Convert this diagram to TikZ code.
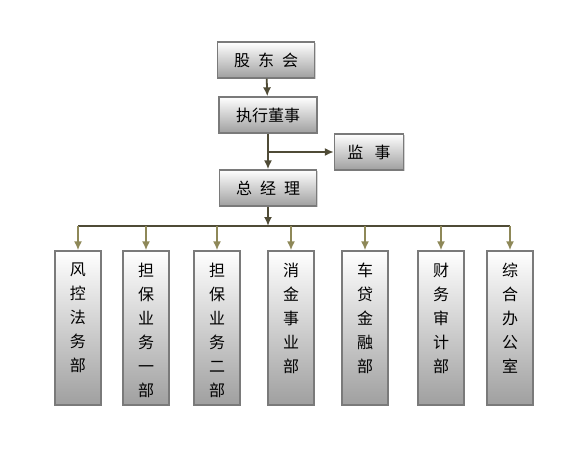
\documentclass[tikz,border=0pt]{standalone}
\usepackage{fontspec}
\setmainfont{Noto Sans CJK SC}
\usepackage{xcolor}
\usetikzlibrary{arrows.meta,positioning,calc,shadows}

\definecolor{trunkcol}{HTML}{4F4B36}
\definecolor{branchcol}{HTML}{8E8858}
\definecolor{boxline}{HTML}{7A7A7A}

\newcommand{\vtext}[1]{\parbox[c][130pt][t]{1.2em}{\centering #1}}

\begin{document}
\begin{tikzpicture}[
  x=1pt, y=-1pt,
  box/.style={
    draw=boxline,
    line width=1.3pt,
    top color=white,
    bottom color=gray!75,
    drop shadow={shadow xshift=1.2pt, shadow yshift=-1.2pt, opacity=0.35},
    font=\fontsize{16}{18}\selectfont,
    minimum height=36pt,
    inner sep=0pt
  },
  dept/.style={
    box,
    minimum width=46pt,
    minimum height=154pt,
    font=\fontsize{16}{24}\selectfont
  },
  line/.style={-{Latex[length=9pt,width=8pt]}, line width=1.8pt, draw=trunkcol},
  subline/.style={-{Latex[length=9pt,width=8pt]}, line width=1.8pt, draw=branchcol}
]
\useasboundingbox (0,0) rectangle (574,460);

% upper chain
\node[box, minimum width=97pt] (gdh) at (266,60) {股\hspace{0.5em}东\hspace{0.5em}会};
\node[box, minimum width=98pt] (zxds) at (268,115) {执行董事};
\node[box, minimum width=69pt] (js) at (369,152) {监\hspace{0.7em}事};
\node[box, minimum width=97pt] (zjl) at (268,188) {总\hspace{0.5em}经\hspace{0.5em}理};

% departments
\node[dept] (d1) at (78,328)  {\vtext{风\\控\\法\\务\\部}};
\node[dept] (d2) at (146,328) {\vtext{担\\保\\业\\务\\一\\部}};
\node[dept] (d3) at (217,328) {\vtext{担\\保\\业\\务\\二\\部}};
\node[dept] (d4) at (291,328) {\vtext{消\\金\\事\\业\\部}};
\node[dept] (d5) at (365,328) {\vtext{车\\贷\\金\\融\\部}};
\node[dept] (d6) at (441,328) {\vtext{财\\务\\审\\计\\部}};
\node[dept] (d7) at (510,328) {\vtext{综\\合\\办\\公\\室}};

\coordinate (fork) at (zxds.south |- js.west);
\coordinate (bar) at (268,226);

\draw[line] (gdh) -- (zxds);
\draw[line] (zxds) -- (zjl);
\draw[line] (fork) -- (js.west);
\draw[line] (zjl.south) -- (bar);
\draw[line width=1.8pt, draw=trunkcol] (d1.north |- bar) -- (d7.north |- bar);

\foreach \d in {d1,d2,d3,d4,d5,d6,d7}
  \draw[subline] (\d.north |- bar) -- (\d.north);

\end{tikzpicture}
\end{document}
